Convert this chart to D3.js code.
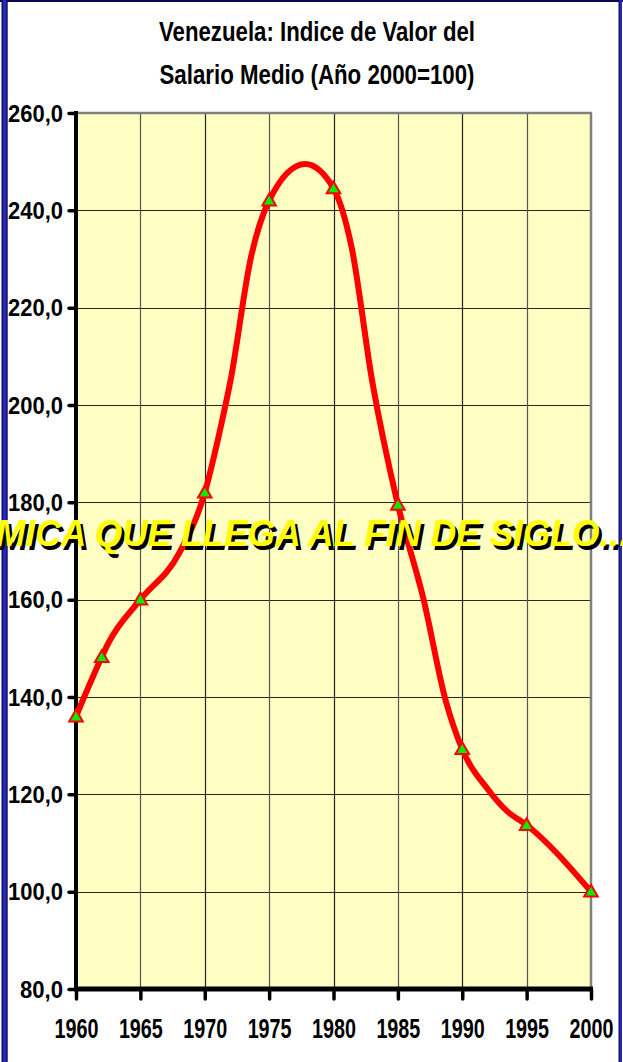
<!DOCTYPE html>
<html>
<head>
<meta charset="utf-8">
<script src="https://cdn.jsdelivr.net/npm/d3@7"></script>
<style>
  html, body { margin: 0; padding: 0; background: #ffffff; }
  svg { display: block; }
</style>
</head>
<body>
<script>
// ---- Data ----
const title1 = "Venezuela: Indice de Valor del";
const title2 = "Salario Medio (Año 2000=100)";
const overlayText = "MICA QUE LLEGA AL FIN DE SIGLO...";

// smoothed line path points
const lineYears  = [1960, 1962, 1962.5, 1965, 1968, 1970, 1971.2, 1972, 1973.6, 1975, 1977.8, 1980, 1981.4, 1983, 1985, 1987, 1988.7, 1990, 1992, 1993.5, 1995, 2000];
const lineValues = [136, 148.2, 151, 160, 169.5, 182, 195, 205, 230.5, 242, 249.5, 244.5, 232.5, 205, 179.5, 160, 139.4, 129.3, 121, 116.5, 113.7, 100];

// marked points
const markerYears  = [1960, 1962, 1965, 1970, 1975, 1980, 1985, 1990, 1995, 2000];
const markerValues = [136, 148.2, 160, 182, 242, 244.5, 179.5, 129.3, 113.7, 100];

const xTicks = [1960, 1965, 1970, 1975, 1980, 1985, 1990, 1995, 2000];
const yTicks = [80, 100, 120, 140, 160, 180, 200, 220, 240, 260];

// ---- Layout ----
const W = 623, H = 1062;
const plot = { left: 76, right: 591, top: 113, bottom: 989 };

const svg = d3.select("body").append("svg").attr("width", W).attr("height", H);

// frame
svg.append("rect").attr("x", 0).attr("y", 0).attr("width", W).attr("height", 2).attr("fill", "#0a0a50");
svg.append("rect").attr("x", 2).attr("y", 0).attr("width", 5).attr("height", H).attr("fill", "#2626b8");
svg.append("rect").attr("x", 1.5).attr("y", 0).attr("width", 1.2).attr("height", H).attr("fill", "#0a0a50");
svg.append("rect").attr("x", 6.5).attr("y", 0).attr("width", 1.2).attr("height", H).attr("fill", "#0a0a50");
svg.append("rect").attr("x", 619).attr("y", 0).attr("width", 3).attr("height", H).attr("fill", "#2626b8");
svg.append("rect").attr("x", 618.5).attr("y", 0).attr("width", 1).attr("height", H).attr("fill", "#0a0a50");

const x = d3.scaleLinear().domain([1960, 2000]).range([plot.left, plot.right]);
const y = d3.scaleLinear().domain([80, 260]).range([plot.bottom, plot.top]);

// plot background
svg.append("rect")
  .attr("x", plot.left).attr("y", plot.top)
  .attr("width", plot.right - plot.left).attr("height", plot.bottom - plot.top)
  .attr("fill", "#FFFFC4");

// gridlines
const grid = svg.append("g");
grid.selectAll("line.h").data(yTicks.slice(1, -1)).join("line")
  .attr("x1", plot.left).attr("x2", plot.right)
  .attr("y1", d => Math.round(y(d)) + 0.5).attr("y2", d => Math.round(y(d)) + 0.5)
  .attr("stroke", "#2a2a1a").attr("stroke-width", 1.2);
grid.selectAll("line.v").data(xTicks.slice(1, -1)).join("line")
  .attr("y1", plot.top).attr("y2", plot.bottom)
  .attr("x1", d => Math.round(x(d)) + 0.5).attr("x2", d => Math.round(x(d)) + 0.5)
  .attr("stroke", (d, i) => i % 2 ? "#222" : "#555").attr("stroke-width", 1.2);

// top & right borders (grey)
svg.append("line").attr("x1", plot.left).attr("x2", plot.right + 1)
  .attr("y1", plot.top).attr("y2", plot.top).attr("stroke", "#808080").attr("stroke-width", 2.5);
svg.append("line").attr("x1", plot.right).attr("x2", plot.right)
  .attr("y1", plot.top).attr("y2", plot.bottom).attr("stroke", "#808080").attr("stroke-width", 2.5);

// axes
const narrow = "'Liberation Sans Narrow','Arial Narrow','Liberation Sans',Arial,sans-serif";

const yAxis = svg.append("g").attr("transform", `translate(${plot.left},0)`)
  .call(d3.axisLeft(y).tickValues(yTicks).tickSize(7).tickPadding(6)
    .tickFormat(d => d3.format(".1f")(d).replace(".", ",")));
yAxis.select(".domain").attr("stroke", "#000").attr("stroke-width", 4).attr("d", `M0,${plot.top - 2}V${plot.bottom + 2}`);
yAxis.selectAll(".tick line").attr("stroke", "#000").attr("stroke-width", 3.5).attr("stroke-linecap", "round");
yAxis.selectAll(".tick text")
  .attr("font-family", narrow).attr("font-weight", "bold").attr("font-size", 23)
  .attr("fill", "#000").attr("dy", "0.35em")
  .attr("textLength", d => d >= 100 ? 55 : 43).attr("lengthAdjust", "spacingAndGlyphs");

const xAxis = svg.append("g").attr("transform", `translate(0,${plot.bottom})`)
  .call(d3.axisBottom(x).tickValues(xTicks).tickSize(10).tickPadding(20).tickFormat(d3.format("d")));
xAxis.select(".domain").attr("stroke", "#000").attr("stroke-width", 5).attr("d", `M${plot.left - 2},0H${plot.right + 2}`);
xAxis.selectAll(".tick line").attr("stroke", "#000").attr("stroke-width", 3.5).attr("stroke-linecap", "round");
xAxis.selectAll(".tick text")
  .attr("font-family", narrow).attr("font-weight", "bold").attr("font-size", 27)
  .attr("fill", "#000")
  .attr("textLength", 44).attr("lengthAdjust", "spacingAndGlyphs");

// title
svg.append("text").attr("x", 317).attr("y", 41).attr("text-anchor", "middle")
  .attr("font-family", narrow).attr("font-weight", "bold").attr("font-size", 27).attr("fill", "#000")
  .attr("textLength", 316).attr("lengthAdjust", "spacingAndGlyphs").text(title1);
svg.append("text").attr("x", 317).attr("y", 84).attr("text-anchor", "middle")
  .attr("font-family", narrow).attr("font-weight", "bold").attr("font-size", 27).attr("fill", "#000")
  .attr("textLength", 315).attr("lengthAdjust", "spacingAndGlyphs").text(title2);

// line
const pts = lineYears.map((yr, i) => [yr, lineValues[i]]);
const line = d3.line().x(d => x(d[0])).y(d => y(d[1])).curve(d3.curveMonotoneX);
svg.append("path").datum(pts).attr("d", line)
  .attr("fill", "none").attr("stroke", "#FF0000").attr("stroke-width", 6)
  .attr("stroke-linejoin", "round").attr("stroke-linecap", "round");

// markers
const mk = markerYears.map((yr, i) => [yr, markerValues[i]]);
svg.append("g").selectAll("path").data(mk).join("path")
  .attr("transform", d => `translate(${x(d[0])},${y(d[1]) + 1})`)
  .attr("d", d3.symbol().type(d3.symbolTriangle).size(80))
  .attr("fill", "#00EE00").attr("stroke", "#FF0000").attr("stroke-width", 2);

// overlay text
const ov = svg.append("g");
ov.append("text").attr("x", -1).attr("y", 550)
  .attr("font-family", "'Liberation Sans',Arial,sans-serif").attr("font-weight", "bold").attr("font-style", "italic")
  .attr("font-size", 36).attr("fill", "#000")
  .attr("textLength", 633).attr("lengthAdjust", "spacingAndGlyphs").text(overlayText);
ov.append("text").attr("x", -4).attr("y", 546)
  .attr("font-family", "'Liberation Sans',Arial,sans-serif").attr("font-weight", "bold").attr("font-style", "italic")
  .attr("font-size", 36).attr("fill", "#FFFF00")
  .attr("textLength", 633).attr("lengthAdjust", "spacingAndGlyphs").text(overlayText);
</script>
</body>
</html>
